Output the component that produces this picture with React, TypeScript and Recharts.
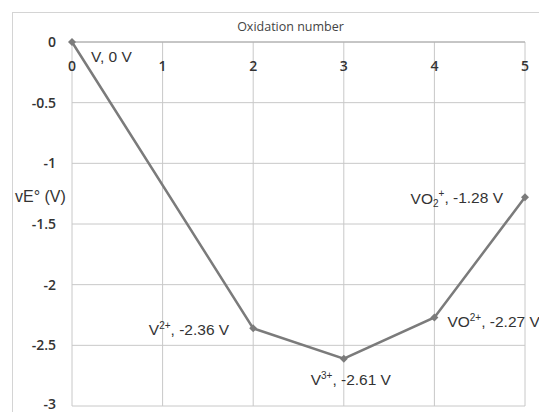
import React from 'react';
import { LineChart, Line, XAxis, YAxis, CartesianGrid, LabelList } from 'recharts';

const oxidationStates = [0, 2, 3, 4, 5];
const voltEquivalents = [0, -2.36, -2.61, -2.27, -1.28];
const speciesNames = ['V', 'V', 'V', 'VO', 'VO'];
const speciesSubscripts = ['', '', '', '', '2'];
const speciesCharges = ['', '2+', '3+', '2+', '+'];
const xTicks = [0, 1, 2, 3, 4, 5];
const yTicks = [0, -0.5, -1, -1.5, -2, -2.5, -3];

const data = oxidationStates.map((ox, i) => ({
  ox,
  ve: voltEquivalents[i],
  name: speciesNames[i],
  sub: speciesSubscripts[i],
  charge: speciesCharges[i],
}));

// where each point label sits relative to its marker
const labelPlacement = [
  { anchor: 'start', dx: 19, dy: 20 },
  { anchor: 'end', dx: -24, dy: 7 },
  { anchor: 'middle', dx: 7, dy: 26 },
  { anchor: 'start', dx: 13, dy: 10 },
  { anchor: 'end', dx: -22, dy: 7 },
];

const LINE = '#7b7b7b';
const TEXT = '#333';

const PointLabel = (props: any) => {
  const { x, y, index } = props;
  const d = data[index];
  const p = labelPlacement[index];
  const value = d.ve === 0 ? '0' : String(d.ve);
  return (
    <text
      x={x + p.dx}
      y={y + p.dy}
      textAnchor={p.anchor}
      fontSize={15.5}
      fontFamily="Liberation Sans, Arial, sans-serif"
      fill={TEXT}
    >
      <tspan>{d.name}</tspan>
      {d.sub && (
        <tspan fontSize={10} dy={3}>
          {d.sub}
        </tspan>
      )}
      {d.charge && (
        <tspan fontSize={10} dy={d.sub ? -10 : -6}>
          {d.charge}
        </tspan>
      )}
      <tspan dy={d.charge ? 6 : 0}>{`, ${value} V`}</tspan>
    </text>
  );
};

const Diamond = (props: any) => {
  const { cx, cy } = props;
  return <path d={`M${cx},${cy - 4}L${cx + 4},${cy}L${cx},${cy + 4}L${cx - 4},${cy}Z`} fill={LINE} />;
};

const XTick = (props: any) => {
  const { x, y, payload } = props;
  return (
    <text
      x={x}
      y={y + 29}
      textAnchor="middle"
      fontSize={14}
      fontWeight={600}
      fontFamily="Open Sans, sans-serif"
      fill={TEXT}
    >
      {payload.value}
    </text>
  );
};

const App: React.FC = () => (
  <div style={{ position: 'absolute', left: 0, top: 0, width: 539, height: 412, background: '#fff', overflow: 'hidden' }}>
    <div
      style={{
        position: 'absolute',
        left: 12,
        top: 12,
        width: 560,
        height: 440,
        border: '1px solid #d4d4d4',
        boxSizing: 'border-box',
      }}
    />
    <LineChart width={539} height={412} data={data} margin={{ top: 12, right: 14, left: 0, bottom: 6 }}>
      <CartesianGrid stroke="#c8c8c8" strokeWidth={1} />
      <XAxis
        dataKey="ox"
        type="number"
        orientation="top"
        domain={[0, 5]}
        ticks={xTicks}
        height={30}
        tickLine={false}
        tickSize={0}
        tickMargin={0}
        axisLine={{ stroke: '#a8a8a8' }}
        tick={<XTick />}
        label={{
          content: (p: any) => (
            <text
              x={p.viewBox.x + p.viewBox.width / 2 - 8}
              y={p.viewBox.y + 19}
              textAnchor="middle"
              fontSize={12.5}
              fontFamily="Open Sans, sans-serif"
              fill="#444"
            >
              Oxidation number
            </text>
          ),
        }}
      />
      <YAxis
        type="number"
        domain={[-3, 0]}
        ticks={yTicks}
        width={72}
        tickLine={false}
        tickSize={0}
        tickMargin={16}
        axisLine={false}
        tick={{ fontSize: 14, fontWeight: 600, fontFamily: 'Open Sans, sans-serif', fill: TEXT }}
        label={{
          content: (p: any) => (
            <text
              x={p.viewBox.x + 15}
              y={p.viewBox.y + p.viewBox.height * 0.44}
              textAnchor="start"
              fontSize={16}
              fontFamily="Liberation Sans, Arial, sans-serif"
              fill={TEXT}
            >
              vE° (V)
            </text>
          ),
        }}
      />
      <Line
        type="linear"
        dataKey="ve"
        stroke={LINE}
        strokeWidth={2.5}
        dot={<Diamond />}
        activeDot={false}
        isAnimationActive={false}
      >
        <LabelList dataKey="ve" content={<PointLabel />} />
      </Line>
    </LineChart>
  </div>
);

export default App;
